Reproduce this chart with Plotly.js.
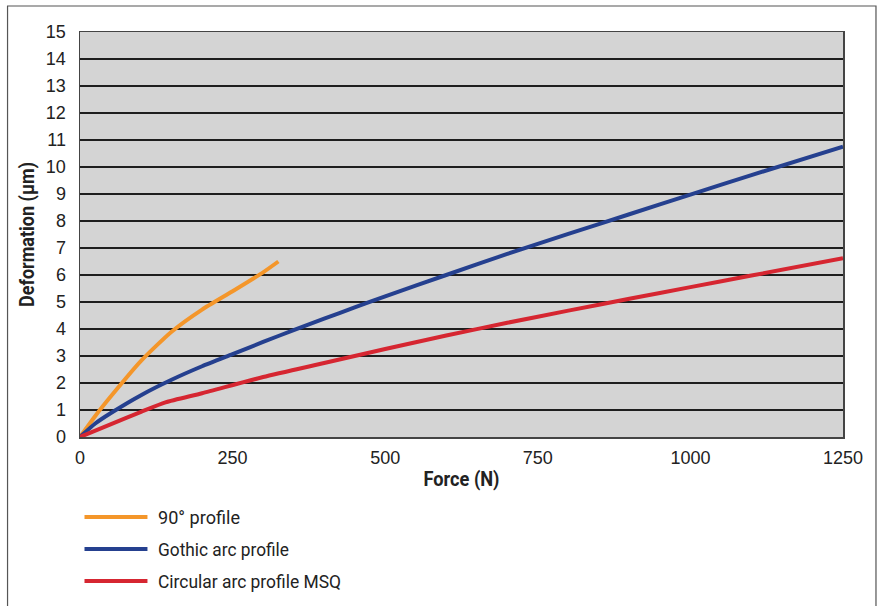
<!DOCTYPE html>
<html>
<head>
<meta charset="utf-8">
<script src="https://cdn.plot.ly/plotly-3.0.1.min.js"></script>
<style>
  html, body { margin: 0; padding: 0; background: #fff; }
  #chart { width: 877px; height: 606px; }
</style>
</head>
<body>
<div id="chart"></div>
<script>
// ---- Data ----
const seriesNames = ["90° profile", "Gothic arc profile", "Circular arc profile MSQ"];

const force90 = [0, 25, 50, 100, 150, 200, 250, 300, 325];
const deform90 = [0, 0.78, 1.49, 2.82, 3.9, 4.72, 5.4, 6.1, 6.5];

const forceGothic = [0, 25, 50, 100, 150, 200, 250, 300, 350, 400, 450, 500, 600, 700, 800, 900, 1000, 1100, 1250];
const deformGothic = [0, 0.5, 0.88, 1.55, 2.12, 2.62, 3.07, 3.52, 3.96, 4.38, 4.8, 5.21, 6.0, 6.78, 7.52, 8.25, 8.98, 9.7, 10.75];

const forceCircular = [0, 50, 100, 140, 200, 300, 400, 500, 600, 700, 800, 900, 1000, 1100, 1250];
const deformCircular = [0, 0.47, 0.93, 1.28, 1.62, 2.22, 2.74, 3.26, 3.76, 4.23, 4.68, 5.12, 5.55, 5.98, 6.62];

const xTicks = [0, 250, 500, 750, 1000, 1250];
const yTicks = [0,1,2,3,4,5,6,7,8,9,10,11,12,13,14,15];

const colors = ["#f4962a", "#25408f", "#d62631"];

// ---- Layout geometry (pixels) ----
const W = 877, H = 606;
const L = 79.5, R = 843, T = 32, B = 437;
const px = x => (x - L) / (R - L);   // pixel -> paper x
const py = y => (B - y) / (B - T);   // pixel -> paper y

const condensed = "Roboto, 'Liberation Sans', sans-serif";
const regular = "'Liberation Sans', Arial, sans-serif";

const traces = [
  {x: force90, y: deform90},
  {x: forceGothic, y: deformGothic},
  {x: forceCircular, y: deformCircular}
].map((d, i) => ({
  x: d.x, y: d.y, type: 'scatter', mode: 'lines', name: seriesNames[i],
  line: {color: colors[i], width: 4, shape: 'spline', smoothing: 0.6},
  showlegend: false, hoverinfo: 'skip', cliponaxis: true
}));

// manual legend below the plot
const legendY = [517, 549, 581];
const legendTextWidth = [82, 131, 183];
const shapes = [
  {type: 'rect', xref: 'paper', yref: 'paper', x0: px(7), x1: px(876), y0: py(6), y1: py(640),
   line: {color: '#555', width: 1.2}, fillcolor: 'rgba(0,0,0,0)', layer: 'below'}
];
const annotations = [];
seriesNames.forEach((n, i) => {
  shapes.push({type: 'line', xref: 'paper', yref: 'paper',
    x0: px(84), x1: px(147), y0: py(legendY[i]), y1: py(legendY[i]),
    line: {color: colors[i], width: 4}});
  annotations.push({xref: 'paper', yref: 'paper', x: px(156), y: py(legendY[i]),
    xanchor: 'left', yanchor: 'middle', align: 'left', text: n, showarrow: false,
    font: {family: condensed, size: 18, color: '#222'}});
});

const layout = {
  width: W, height: H,
  margin: {l: L, r: W - R, t: T, b: H - B, pad: 0},
  paper_bgcolor: '#fff',
  plot_bgcolor: '#d4d4d4',
  showlegend: false,
  xaxis: {
    range: [0, 1250], tickvals: xTicks, ticktext: xTicks.map(String),
    showgrid: false, zeroline: false, showline: true, linecolor: '#444', linewidth: 1.5,
    mirror: true, ticks: '', ticklabelstandoff: 4,
    tickfont: {family: regular, size: 18, color: '#222'},
    title: {text: 'Force (N)', font: {family: condensed, size: 20, weight: 'bold', color: '#222'}, standoff: 5},
    automargin: false, fixedrange: true
  },
  yaxis: {
    range: [0, 15], tickvals: yTicks, ticktext: yTicks.map(String),
    showgrid: true, gridcolor: '#1e1e1e', gridwidth: 1.2,
    zeroline: false, showline: true, linecolor: '#444', linewidth: 1.5,
    mirror: true, ticks: '', ticklabelstandoff: 9,
    tickfont: {family: regular, size: 18, color: '#222'},
    title: {text: 'Deformation (µm)', font: {family: condensed, size: 20, weight: 'bold', color: '#222'}, standoff: 6},
    automargin: false, fixedrange: true
  },
  shapes: shapes,
  annotations: annotations
};

function condense(el, len) {
  if (!el) return;
  el.setAttribute('textLength', len);
  el.setAttribute('lengthAdjust', 'spacingAndGlyphs');
}

Plotly.newPlot('chart', traces, layout, {staticPlot: true, displayModeBar: false}).then(gd => {
  condense(gd.querySelector('.xtitle'), 76);
  condense(gd.querySelector('.ytitle'), 145);
  gd.querySelectorAll('.annotation-text').forEach((el, i) => condense(el, legendTextWidth[i]));
});
</script>
</body>
</html>
